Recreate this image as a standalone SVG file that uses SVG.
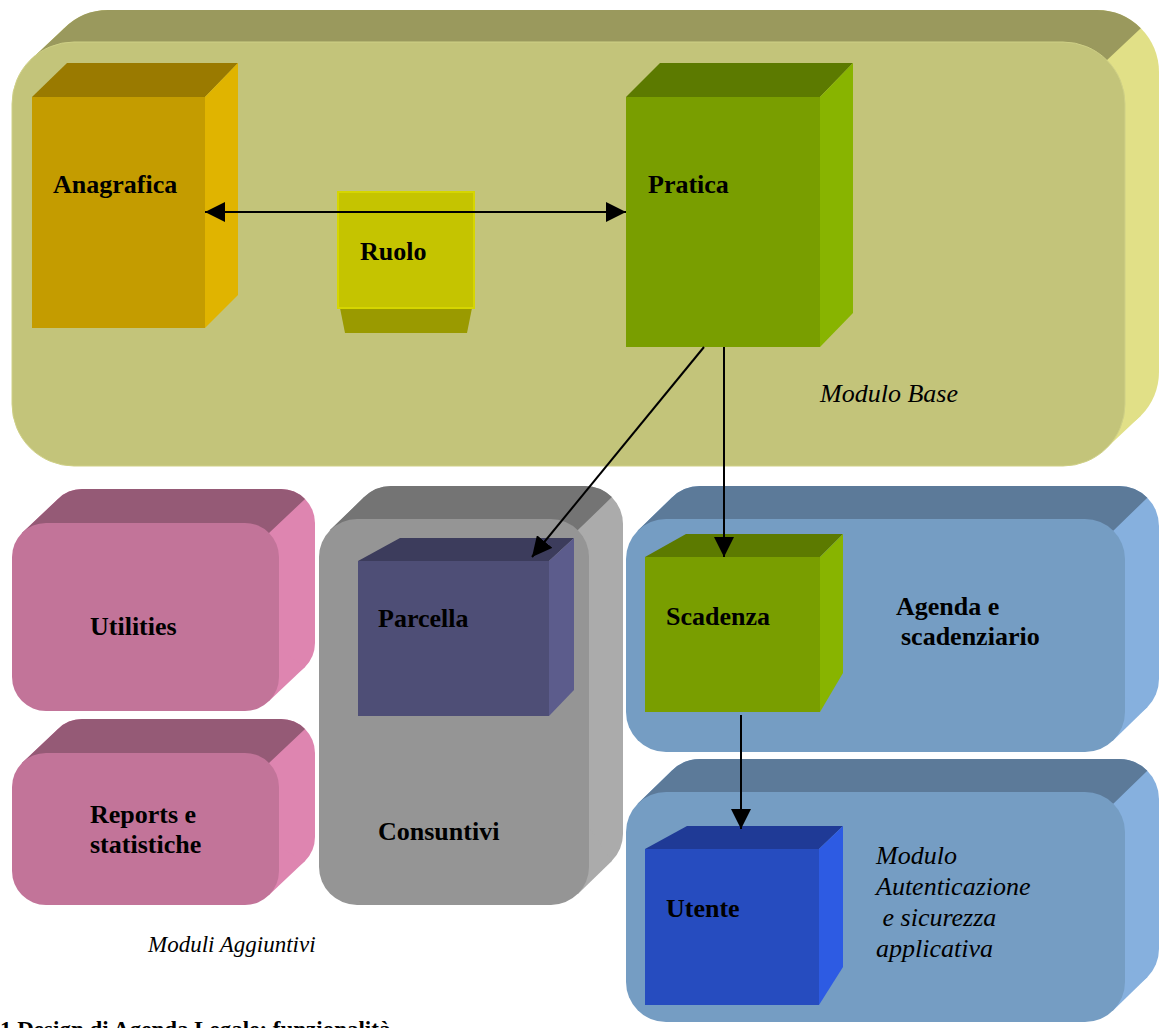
<svg xmlns="http://www.w3.org/2000/svg" width="1160" height="1028" viewBox="0 0 1160 1028">
<style>
text{font-family:"Liberation Serif","Times New Roman",serif;font-size:26px;fill:#000}
.b{font-weight:bold}
.i{font-style:italic}
.ln{stroke:#000;stroke-width:2;fill:none}
</style>
<defs>
<marker id="ah" markerUnits="userSpaceOnUse" markerWidth="20" markerHeight="20" refX="20" refY="10" orient="auto-start-reverse" viewBox="0 0 20 20"><path d="M0,0 L20,10 L0,20 z" fill="#000"/></marker>
</defs>
<rect width="1160" height="1028" fill="#fff"/>

<g id="modulo-base">
<rect x="46" y="10" width="1113" height="424" rx="62" fill="#e1e087"/>
<polygon points="30.2,60.2 64.2,28.2 1140.8,415.8 1106.8,447.8" fill="#e1e087"/>
<path d="M30.2,60.2 L64.2,28.2 A62,62 0 0 1 108,10 L1097,10 A62,62 0 0 1 1140.8,28.2 L1106.8,60.2 Z" fill="#9a995d"/>
<rect x="12" y="42" width="1113" height="424" rx="62" fill="#c3c47a" stroke="#cfd086" stroke-width="1"/>
<text class="i" x="820" y="402">Modulo Base</text>
</g>

<g id="utilities">
<rect x="48" y="489" width="267" height="188" rx="34" fill="#de85b0"/>
<polygon points="22,533 58,499 305,667 269,701" fill="#de85b0"/>
<path d="M22,533 L58,499 A34,34 0 0 1 82,489 L281,489 A34,34 0 0 1 305,499 L269,533 Z" fill="#955a76"/>
<rect x="12" y="523" width="267" height="188" rx="34" fill="#c27499"/>
<text class="b" x="90" y="635">Utilities</text>
</g>

<g id="reports">
<rect x="48" y="719" width="267" height="152" rx="34" fill="#de85b0"/>
<polygon points="22,763 58,729 305,861 269,895" fill="#de85b0"/>
<path d="M22,763 L58,729 A34,34 0 0 1 82,719 L281,719 A34,34 0 0 1 305,729 L269,763 Z" fill="#955a76"/>
<rect x="12" y="753" width="267" height="152" rx="34" fill="#c27499"/>
<text class="b" x="90" y="823">Reports e</text>
<text class="b" x="90" y="853">statistiche</text>
</g>

<g id="consuntivi">
<rect x="353" y="486" width="270" height="386" rx="38" fill="#ababab"/>
<polygon points="330.1,530.1 364.1,497.1 611.9,860.9 577.9,893.9" fill="#ababab"/>
<path d="M330.1,530.1 L364.1,497.1 A38,38 0 0 1 391,486 L585,486 A38,38 0 0 1 611.9,497.1 L577.9,530.1 Z" fill="#747474"/>
<rect x="319" y="519" width="270" height="386" rx="38" fill="#959595"/>
<text class="b" x="378" y="840">Consuntivi</text>
</g>

<g id="agenda">
<rect x="660" y="486" width="499" height="233" rx="40" fill="#86b0de"/>
<polygon points="637.7,530.7 671.7,497.7 1147.3,707.3 1113.3,740.3" fill="#86b0de"/>
<path d="M637.7,530.7 L671.7,497.7 A40,40 0 0 1 700,486 L1119,486 A40,40 0 0 1 1147.3,497.7 L1113.3,530.7 Z" fill="#5c7a99"/>
<rect x="626" y="519" width="499" height="233" rx="40" fill="#759dc3"/>
<text class="b" x="896" y="615">Agenda e</text>
<text class="b" x="901" y="645">scadenziario</text>
</g>

<g id="autenticazione">
<rect x="660" y="759" width="499" height="230" rx="40" fill="#86b0de"/>
<polygon points="637.7,803.7 671.7,770.7 1147.3,977.3 1113.3,1010.3" fill="#86b0de"/>
<path d="M637.7,803.7 L671.7,770.7 A40,40 0 0 1 700,759 L1119,759 A40,40 0 0 1 1147.3,770.7 L1113.3,803.7 Z" fill="#5c7a99"/>
<rect x="626" y="792" width="499" height="230" rx="40" fill="#759dc3"/>
<text class="i" x="876" y="864">Modulo</text>
<text class="i" x="876" y="895">Autenticazione</text>
<text class="i" x="876" y="926" xml:space="preserve"> e sicurezza</text>
<text class="i" x="876" y="957">applicativa</text>
</g>

<g id="anagrafica">
<polygon points="32,97 67,63 238,63 205,97" fill="#9a7a00"/>
<polygon points="205,97 238,63 238,295 205,328" fill="#e0b400"/>
<rect x="32" y="97" width="173" height="231" fill="#c49c00"/>
<text class="b" x="53" y="193">Anagrafica</text>
</g>

<g id="ruolo">
<polygon points="340,308 472,308 467,333 345,333" fill="#9a9a00"/>
<rect x="338" y="192" width="136" height="116" fill="#c5c400" stroke="#d6d600" stroke-width="2"/>
<text class="b" x="360" y="260">Ruolo</text>
</g>

<g id="pratica">
<polygon points="626,97 660,63 853,63 820,97" fill="#5c7a00"/>
<polygon points="820,97 853,63 853,313 820,347" fill="#88b400"/>
<rect x="626" y="97" width="194" height="250" fill="#799e00"/>
<text class="b" x="648" y="193">Pratica</text>
</g>

<g id="parcella">
<polygon points="358,561 400,538 574,538 549,561" fill="#3c3c5c"/>
<polygon points="549,561 574,538 574,690 549,716" fill="#5c5c8c"/>
<rect x="358" y="561" width="191" height="155" fill="#4e4e76"/>
<text class="b" x="378" y="627">Parcella</text>
</g>

<g id="scadenza">
<polygon points="645,557 686,534 843,534 820,557" fill="#5c7a00"/>
<polygon points="820,557 843,534 843,673 820,712" fill="#88b400"/>
<rect x="645" y="557" width="175" height="155" fill="#799e00"/>
<text class="b" x="666" y="625">Scadenza</text>
</g>

<g id="utente">
<polygon points="645,849 687,826 843,826 819,849" fill="#1f3a96"/>
<polygon points="819,849 843,826 843,967 819,1005" fill="#2d5be3"/>
<rect x="645" y="849" width="174" height="156" fill="#264cbf"/>
<text class="b" x="666" y="917">Utente</text>
</g>

<g id="connectors">
<line class="ln" x1="205" y1="212" x2="626" y2="212" marker-start="url(#ah)" marker-end="url(#ah)"/>
<line class="ln" x1="704" y1="347" x2="532" y2="557" marker-end="url(#ah)"/>
<line class="ln" x1="724" y1="347" x2="724" y2="557" marker-end="url(#ah)"/>
<line class="ln" x1="741" y1="715" x2="741" y2="829" marker-end="url(#ah)"/>
</g>

<text class="i" x="148" y="952" style="font-size:23px">Moduli Aggiuntivi</text>
<text class="b" x="0" y="1037" style="font-size:23px">1 Design di Agenda Legale: funzionalità</text>
</svg>
